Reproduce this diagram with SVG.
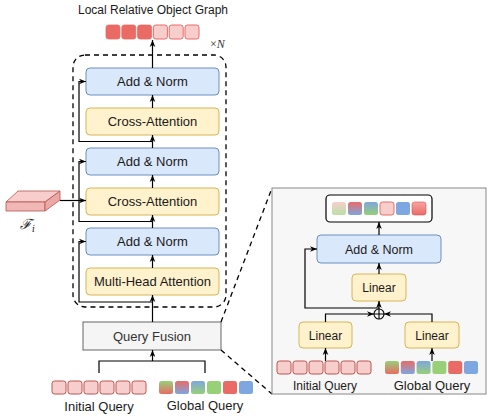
<svg xmlns="http://www.w3.org/2000/svg" width="494" height="416" viewBox="0 0 494 416">
<defs>
<marker id="ah" viewBox="0 0 10 10" refX="10" refY="5" markerWidth="7" markerHeight="7" markerUnits="userSpaceOnUse" orient="auto"><path d="M0,1 L10,5 L0,9 L3,5 z" fill="#000"/></marker>
<linearGradient id="gGR" x1="0" y1="0" x2="0" y2="1"><stop offset="0" stop-color="#97d077"/><stop offset="1" stop-color="#ea6b66"/></linearGradient>
<linearGradient id="gRB" x1="0" y1="0" x2="0" y2="1"><stop offset="0" stop-color="#ea6b66"/><stop offset="1" stop-color="#7ea6e0"/></linearGradient>
<linearGradient id="gBG" x1="0" y1="0" x2="0" y2="1"><stop offset="0" stop-color="#7ea6e0"/><stop offset="1" stop-color="#97d077"/></linearGradient>
<linearGradient id="gPG" x1="0" y1="0" x2="0" y2="1"><stop offset="0" stop-color="#f8cecc"/><stop offset="1" stop-color="#b9e0a5"/></linearGradient>
<linearGradient id="gRR" x1="0" y1="0" x2="0" y2="1"><stop offset="0" stop-color="#f5a6a4"/><stop offset="1" stop-color="#ea6b66"/></linearGradient>
</defs>
<style>
.blue{fill:#dae8fc;stroke:#6c8ebf;stroke-width:1}
.yel{fill:#fff2cc;stroke:#d6b656;stroke-width:1}
.t{font-family:"Liberation Sans",Arial,sans-serif;fill:#1a1a1a;text-anchor:middle}
.c{fill:none;stroke:#000;stroke-width:1.2}
.dash{fill:none;stroke:#000;stroke-width:1.3;stroke-dasharray:5 4}
.pink{fill:#f8cecc;stroke:#b85450;stroke-width:1}
.red{fill:#ea6b66;stroke:#ea6b66;stroke-width:0.8}
.sq{stroke:none}
</style>

<text class="t" x="153" y="14" font-size="12">Local Relative Object Graph</text>

<g id="output-graph">
<rect class="red" x="106" y="25" width="14" height="14" rx="2.5"/>
<rect class="red" x="121.8" y="25" width="14" height="14" rx="2.5"/>
<rect class="red" x="137.6" y="25" width="14" height="14" rx="2.5"/>
<rect class="pink" x="153.4" y="25" width="14" height="14" rx="2.5" style="stroke:#ea6b66"/>
<rect class="pink" x="169.2" y="25" width="14" height="14" rx="2.5" style="stroke:#ea6b66"/>
<rect class="pink" x="185" y="25" width="14" height="14" rx="2.5" style="stroke:#ea6b66"/>
</g>

<g id="repeat-block">
<rect class="dash" x="73" y="55" width="153" height="252" rx="12"/>
<text x="210" y="48" font-family="'Liberation Serif','DejaVu Serif',serif" font-size="12" fill="#333">×<tspan font-style="italic">N</tspan></text>
</g>

<g id="add-norm-1"><rect class="blue" x="86" y="68" width="133" height="27" rx="4"/><text class="t" x="152.5" y="86" font-size="13">Add &amp; Norm</text></g>
<g id="cross-attention-1"><rect class="yel" x="86" y="108" width="133" height="27" rx="4"/><text class="t" x="152.5" y="126" font-size="13">Cross-Attention</text></g>
<g id="add-norm-2"><rect class="blue" x="86" y="148" width="133" height="27" rx="4"/><text class="t" x="152.5" y="166" font-size="13">Add &amp; Norm</text></g>
<g id="cross-attention-2"><rect class="yel" x="86" y="188" width="133" height="27" rx="4"/><text class="t" x="152.5" y="206" font-size="13">Cross-Attention</text></g>
<g id="add-norm-3"><rect class="blue" x="86" y="228" width="133" height="27" rx="4"/><text class="t" x="152.5" y="246" font-size="13">Add &amp; Norm</text></g>
<g id="multi-head-attention"><rect class="yel" x="86" y="268" width="133" height="27" rx="4"/><text class="t" x="152.5" y="286" font-size="13">Multi-Head Attention</text></g>

<g id="query-fusion"><rect x="83" y="322" width="138" height="28" fill="#f5f5f5" stroke="#666" stroke-width="1"/><text class="t" x="152" y="341" font-size="13" style="fill:#333">Query Fusion</text></g>

<g id="feature-Fi">
<polygon points="6,202 18,191 60,191 45,202" fill="#f8cecc" stroke="#b85450" stroke-width="0.8"/>
<polygon points="6,202 45,202 45,211 6,211" fill="#f1b7b5" stroke="#b85450" stroke-width="0.8"/>
<polygon points="45,202 60,191 60,200 45,211" fill="#eaa8a6" stroke="#b85450" stroke-width="0.8"/>
<text x="20" y="229" font-family="'DejaVu Serif','Liberation Serif',serif" font-style="italic" font-size="14" fill="#222">ℱ<tspan font-size="9" dy="3">i</tspan></text>
</g>

<g id="initial-query">
<rect class="pink" x="52" y="381" width="14" height="13" rx="2.5"/>
<rect class="pink" x="68" y="381" width="14" height="13" rx="2.5"/>
<rect class="pink" x="84" y="381" width="14" height="13" rx="2.5"/>
<rect class="pink" x="100" y="381" width="14" height="13" rx="2.5"/>
<rect class="pink" x="116" y="381" width="14" height="13" rx="2.5"/>
<rect class="pink" x="132" y="381" width="14" height="13" rx="2.5"/>
<text class="t" x="99" y="411" font-size="13">Initial Query</text>
</g>
<g id="global-query">
<rect class="sq" x="159" y="381" width="14" height="13" rx="2.5" fill="url(#gGR)"/>
<rect class="sq" x="175" y="381" width="14" height="13" rx="2.5" fill="url(#gRB)"/>
<rect class="sq" x="191" y="381" width="14" height="13" rx="2.5" fill="url(#gBG)"/>
<rect class="sq" x="207" y="381" width="14" height="13" rx="2.5" fill="#97d077"/>
<rect class="sq" x="223" y="381" width="14" height="13" rx="2.5" fill="#ea6b66"/>
<rect class="sq" x="239" y="381" width="14" height="13" rx="2.5" fill="#7ea6e0"/>
<text class="t" x="205" y="410" font-size="13">Global Query</text>
</g>

<g id="zoom-lines">
<path class="dash" d="M221,322 L272,188"/>
<path class="dash" d="M221,350 L272,394"/>
</g>

<g id="detail-panel">
<rect x="272" y="188" width="214" height="206" fill="#f7f7f7" stroke="#888" stroke-width="1"/>
</g>
<g id="panel-output">
<rect x="326" y="195" width="106" height="27" rx="4" fill="#fff" stroke="#000" stroke-width="1.2"/>
<rect class="sq" x="332" y="202" width="14" height="13" rx="2.5" fill="url(#gPG)"/>
<rect class="sq" x="348" y="202" width="14" height="13" rx="2.5" fill="url(#gRB)"/>
<rect class="sq" x="364" y="202" width="14" height="13" rx="2.5" fill="url(#gBG)"/>
<rect class="pink" x="380" y="202" width="14" height="13" rx="2.5" style="stroke:#ea6b66"/>
<rect class="sq" x="396" y="202" width="14" height="13" rx="2.5" fill="#7ea6e0"/>
<rect x="412" y="202" width="14" height="13" rx="2.5" fill="url(#gRR)" stroke="#d9534f" stroke-width="0.6"/>
</g>
<g id="panel-add-norm"><rect class="blue" x="317" y="235" width="124" height="28" rx="4"/><text class="t" x="379" y="253.5" font-size="12.5">Add &amp; Norm</text></g>
<g id="panel-linear-top"><rect class="yel" x="352" y="274" width="54" height="27" rx="4"/><text class="t" x="379" y="292" font-size="12">Linear</text></g>
<g id="panel-linear-left"><rect class="yel" x="299" y="322" width="53" height="26" rx="4"/><text class="t" x="325.5" y="339.5" font-size="12">Linear</text></g>
<g id="panel-linear-right"><rect class="yel" x="405" y="322" width="54" height="26" rx="4"/><text class="t" x="432" y="339.5" font-size="12">Linear</text></g>
<g id="panel-plus">
<circle cx="379" cy="314" r="5" fill="none" stroke="#000" stroke-width="1.1"/>
<path d="M374,314 H384 M379,309 V319" stroke="#000" stroke-width="1.1"/>
</g>
<g id="panel-initial-query">
<rect class="pink" x="277" y="361" width="14" height="13" rx="2.5"/>
<rect class="pink" x="293" y="361" width="14" height="13" rx="2.5"/>
<rect class="pink" x="309" y="361" width="14" height="13" rx="2.5"/>
<rect class="pink" x="325" y="361" width="14" height="13" rx="2.5"/>
<rect class="pink" x="341" y="361" width="14" height="13" rx="2.5"/>
<rect class="pink" x="357" y="361" width="14" height="13" rx="2.5"/>
<text class="t" x="325" y="390" font-size="12">Initial Query</text>
</g>
<g id="panel-global-query">
<rect class="sq" x="385" y="361" width="14" height="13" rx="2.5" fill="url(#gGR)"/>
<rect class="sq" x="400.8" y="361" width="14" height="13" rx="2.5" fill="url(#gRB)"/>
<rect class="sq" x="416.6" y="361" width="14" height="13" rx="2.5" fill="url(#gBG)"/>
<rect class="sq" x="432.4" y="361" width="14" height="13" rx="2.5" fill="#97d077"/>
<rect class="sq" x="448.2" y="361" width="14" height="13" rx="2.5" fill="#ea6b66"/>
<rect class="sq" x="464" y="361" width="14" height="13" rx="2.5" fill="#7ea6e0"/>
<text class="t" x="432" y="390" font-size="13">Global Query</text>
</g>

<g id="connectors">
<path class="c" d="M152.5,68 V40" marker-end="url(#ah)"/>
<path class="c" d="M152.5,108 V95" marker-end="url(#ah)"/>
<path class="c" d="M152.5,148 V135" marker-end="url(#ah)"/>
<path class="c" d="M152.5,188 V175" marker-end="url(#ah)"/>
<path class="c" d="M152.5,228 V215" marker-end="url(#ah)"/>
<path class="c" d="M152.5,268 V255" marker-end="url(#ah)"/>
<path class="c" d="M152.5,322 V295" marker-end="url(#ah)"/>
<path class="c" d="M152.5,141.5 H79 V81.5 H86" marker-end="url(#ah)"/>
<path class="c" d="M152.5,221.5 H79 V161.5 H86" marker-end="url(#ah)"/>
<path class="c" d="M152.5,302 H79 V241.5 H86" marker-end="url(#ah)"/>
<path class="c" d="M60,200.5 H86" marker-end="url(#ah)"/>
<path class="c" d="M99,373 V361 H205 V373"/>
<path class="c" d="M152.5,361 V350" marker-end="url(#ah)"/>
<path class="c" d="M379,235 V222" marker-end="url(#ah)"/>
<path class="c" d="M379,274 V263" marker-end="url(#ah)"/>
<path class="c" d="M379,309 V301" marker-end="url(#ah)"/>
<path class="c" d="M325.5,322 V314 H374" marker-end="url(#ah)"/>
<path class="c" d="M432,322 V314 H384" marker-end="url(#ah)"/>
<path class="c" d="M379,308 H305 V249 H317" marker-end="url(#ah)"/>
<path class="c" d="M325.5,361 V348" marker-end="url(#ah)"/>
<path class="c" d="M432,361 V348" marker-end="url(#ah)"/>
</g>
</svg>
